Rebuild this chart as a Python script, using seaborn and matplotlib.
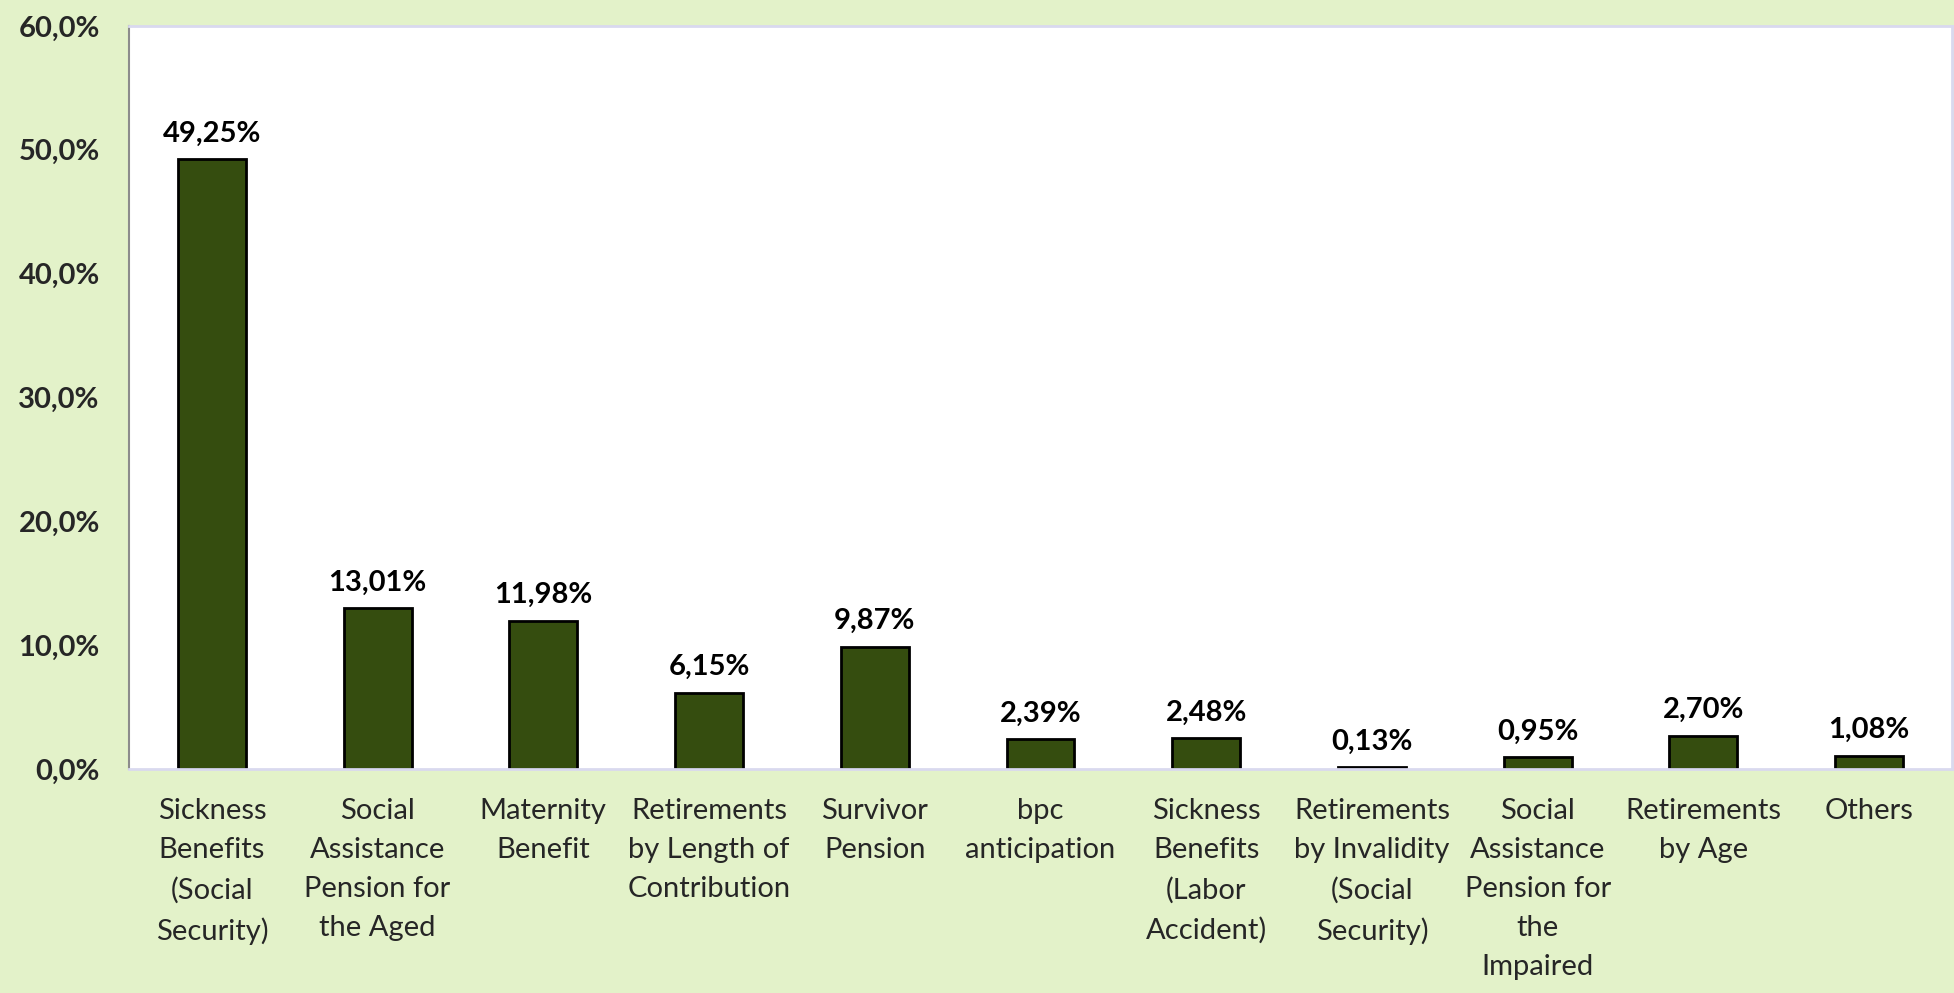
import matplotlib
matplotlib.use("Agg")
import matplotlib.pyplot as plt
import seaborn as sns
import pandas as pd
import numpy as np
from matplotlib.ticker import FuncFormatter, FixedLocator

# chart data
categories = [
    "Sickness\nBenefits\n(Social\nSecurity)",
    "Social\nAssistance\nPension for\nthe Aged",
    "Maternity\nBenefit",
    "Retirements\nby Length of\nContribution",
    "Survivor\nPension",
    "bpc\nanticipation",
    "Sickness\nBenefits\n(Labor\nAccident)",
    "Retirements\nby Invalidity\n(Social\nSecurity)",
    "Social\nAssistance\nPension for\nthe\nImpaired",
    "Retirements\nby Age",
    "Others",
]
shares = [49.25, 13.01, 11.98, 6.15, 9.87, 2.39, 2.48, 0.13, 0.95, 2.70, 1.08]
y_ticks = [0, 10, 20, 30, 40, 50, 60]

BG = "#E3F2C9"
BAR = "#354D0F"
LAVENDER = "#D9D9EF"

sns.set_style("white")
plt.rcParams["font.family"] = ["Lato", "DejaVu Sans"]

df = pd.DataFrame({"category": categories, "share": shares})

fig = plt.figure(figsize=(19.54, 9.93), dpi=100, facecolor=BG)
ax = fig.add_axes([0.066, 0.2256, 0.933, 0.7482])
ax.set_facecolor("white")

sns.barplot(data=df, x="category", y="share", color=BAR, saturation=1,
            width=0.41, edgecolor="black", linewidth=2, ax=ax)

ax.set_xlim(-0.5, len(categories) - 0.5)
ax.set_ylim(0, 60)
ax.yaxis.set_major_locator(FixedLocator(y_ticks))
ax.yaxis.set_major_formatter(FuncFormatter(lambda v, p: f"{v:.1f}%".replace(".", ",")))

# value labels
for container in ax.containers:
    ax.bar_label(container, labels=[f"{v:.2f}%".replace(".", ",") for v in shares],
                 padding=9, fontsize=21, fontweight="bold", color="black")

ax.set_xlabel("")
ax.set_ylabel("")

# spines
for side in ["top", "right", "bottom"]:
    ax.spines[side].set_color(LAVENDER)
    ax.spines[side].set_linewidth(2)
ax.spines["left"].set_color("#8C8C8C")
ax.spines["left"].set_linewidth(1.5)

# y ticks
ax.tick_params(axis="y", which="major", direction="out", length=7, width=1.5,
               color="#8C8C8C", pad=14, labelsize=21)
for lbl in ax.get_yticklabels():
    lbl.set_fontweight("bold")

# x labels at centres, tick marks at category boundaries
ax.tick_params(axis="x", which="major", length=0, pad=21, labelsize=21)
for lbl in ax.get_xticklabels():
    lbl.set_linespacing(1.62)
ax.set_xticks(np.arange(-0.5, len(categories), 1.0), minor=True)
ax.tick_params(axis="x", which="minor", direction="out", length=8, width=1.5,
               color=LAVENDER)

plt.savefig("out.png", dpi=100, facecolor=BG)
plt.close()
